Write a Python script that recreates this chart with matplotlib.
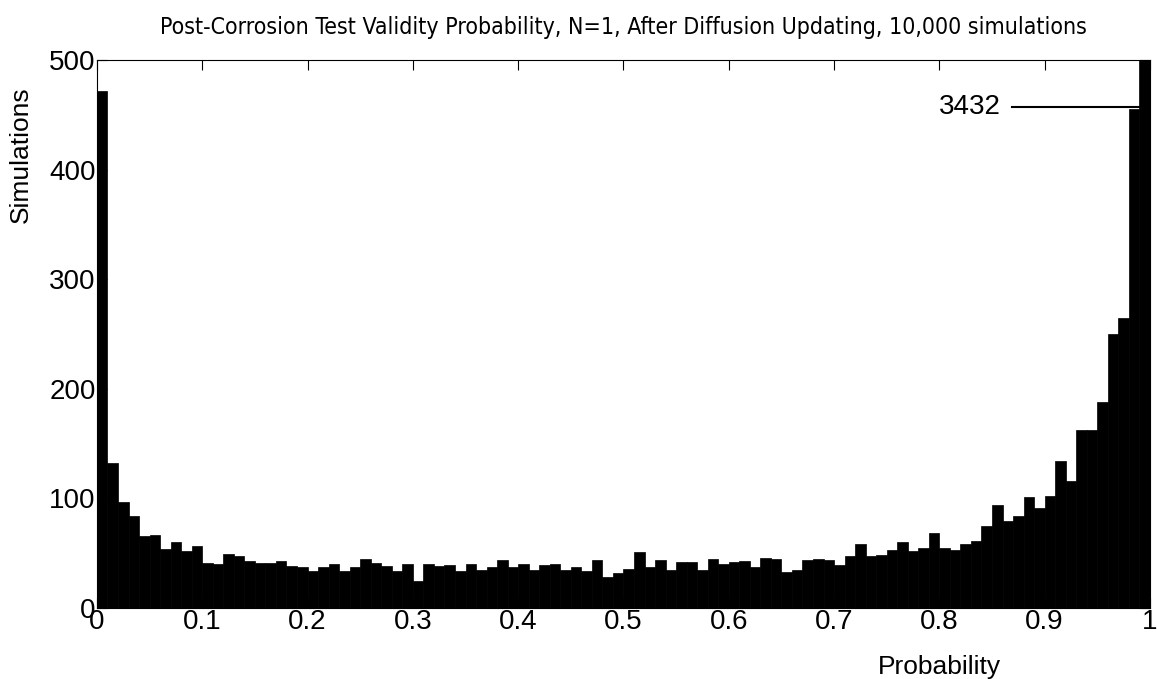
import matplotlib.pyplot as plt
import numpy as np

# Histogram counts, 100 bins of width 0.01 on [0, 1]
counts = np.array([
    472, 132, 97, 84, 66, 67, 54, 60, 52, 57,
    41, 40, 49, 47, 43, 41, 41, 43, 38, 37,
    34, 37, 40, 34, 37, 45, 41, 38, 34, 40,
    25, 40, 38, 39, 34, 40, 35, 37, 44, 37,
    40, 35, 39, 40, 35, 37, 34, 44, 28, 32,
    36, 51, 37, 44, 35, 42, 42, 35, 45, 40,
    42, 43, 37, 46, 45, 33, 35, 44, 45, 44,
    39, 47, 58, 47, 48, 53, 60, 52, 55, 68,
    55, 53, 58, 61, 75, 94, 79, 84, 101, 91,
    102, 134, 116, 162, 162, 188, 250, 265, 455, 3432,
])
n_bins = 100
bin_width = 1.0 / n_bins
bin_left = np.arange(n_bins) * bin_width

title = 'Post-Corrosion Test Validity Probability, N=1, After Diffusion Updating, 10,000 simulations'
x_ticks = [0, 0.1, 0.2, 0.3, 0.4, 0.5, 0.6, 0.7, 0.8, 0.9, 1]
x_tick_labels = ['0', '0.1', '0.2', '0.3', '0.4', '0.5', '0.6', '0.7', '0.8', '0.9', '1']
y_ticks = [0, 100, 200, 300, 400, 500]

plt.rcParams['font.family'] = ['Liberation Sans', 'DejaVu Sans']

fig = plt.figure(figsize=(11.57, 6.79), dpi=100)
ax = fig.add_axes([0.0838, 0.1046, 0.9101, 0.807])

ax.bar(bin_left, counts, width=bin_width, align='edge', color='black',
       edgecolor='black', linewidth=0.5)

# clipped last bin label
peak = counts[-1]
ax.plot([0.869, bin_left[-1]], [457, 457], color='black', linewidth=1.5)
ax.text(0.858, 457, str(peak), ha='right', va='center', fontsize=20)

ax.set_xlim(0, 1)
ax.set_ylim(0, 500)
ax.set_xticks(x_ticks)
ax.set_xticklabels(x_tick_labels)
ax.set_yticks(y_ticks)
ax.tick_params(direction='in', top=True, right=True, labelsize=20, length=7, pad=1)

ax.set_title(title, fontsize=16.6, family=['DejaVu Sans'], stretch='condensed',
             pad=19)
ax.set_xlabel('Probability', fontsize=19)
ax.xaxis.set_label_coords(0.8, -0.085)
ax.set_ylabel('Simulations', fontsize=19)
ax.yaxis.set_label_coords(-0.061, 0.827)

fig.savefig('out.png', dpi=100)
